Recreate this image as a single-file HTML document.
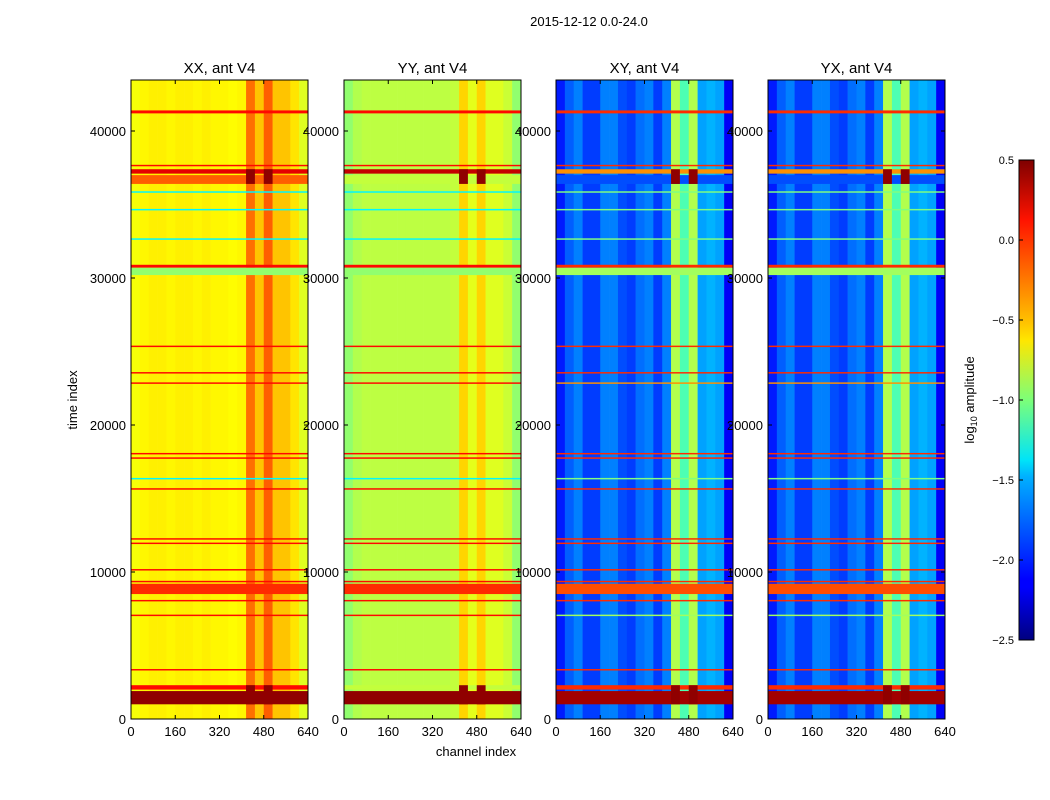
<!DOCTYPE html>
<html><head><meta charset="utf-8"><style>
body{margin:0;background:#fff;}
svg{display:block;font-family:"Liberation Sans",sans-serif;}
</style></head><body>
<svg id="fig" width="1050" height="800" xmlns="http://www.w3.org/2000/svg">
<defs>
<linearGradient id="cbgrad" x1="0" y1="1" x2="0" y2="0">
<stop offset="0" stop-color="#00007f"/><stop offset="0.11" stop-color="#0000ff"/><stop offset="0.125" stop-color="#0000ff"/>
<stop offset="0.34" stop-color="#00b0ff"/><stop offset="0.375" stop-color="#00e4f8"/><stop offset="0.5" stop-color="#7cff79"/>
<stop offset="0.625" stop-color="#ffe600"/><stop offset="0.66" stop-color="#ffc400"/><stop offset="0.875" stop-color="#ff1300"/><stop offset="1" stop-color="#7f0000"/>
</linearGradient>
</defs>
<text x="589" y="26" font-size="13" text-anchor="middle">2015-12-12 0.0-24.0</text>
<g id="panels"></g>
<text x="476" y="756" font-size="13" text-anchor="middle">channel index</text>
<text transform="translate(77,400) rotate(-90)" font-size="13" text-anchor="middle">time index</text>
<g>
<rect x="1019" y="160" width="15" height="480" fill="url(#cbgrad)" stroke="#000" stroke-width="1"/>
<g id="cbticks"></g>
<text transform="translate(974,400) rotate(-90)" font-size="13" text-anchor="middle">log<tspan font-size="9" dy="3">10</tspan><tspan dy="-3"> amplitude</tspan></text>
</g>
</svg>
<script>
// ---- data ----
const panelTitles = ["XX, ant V4","YY, ant V4","XY, ant V4","YX, ant V4"];
const xTicks = [0,160,320,480,640];
const yTicks = [0,10000,20000,30000,40000];
const cbTicks = [0.5,0.0,-0.5,-1.0,-1.5,-2.0,-2.5];
// column profile (log10 amplitude) per 32-channel bin
const colXX = [-0.65,-0.6,-0.58,-0.58,-0.6,-0.58,-0.58,-0.6,-0.58,-0.6,-0.6,-0.62,-0.6,-0.2,-0.45,-0.15,-0.45,-0.45,-0.55,-0.72];
const colYY = [-0.95,-0.85,-0.82,-0.82,-0.82,-0.82,-0.82,-0.82,-0.82,-0.82,-0.82,-0.82,-0.8,-0.5,-0.7,-0.5,-0.72,-0.72,-0.78,-0.95];
const colXY = [-2.05,-1.85,-1.75,-1.95,-1.95,-1.75,-1.75,-1.9,-1.95,-1.8,-1.75,-1.95,-1.75,-0.85,-1.15,-0.85,-1.65,-1.6,-1.65,-2.15];
const colYX = [-2.05,-1.85,-1.75,-1.95,-1.95,-1.75,-1.75,-1.9,-1.95,-1.8,-1.75,-1.95,-1.75,-0.85,-1.15,-0.85,-1.65,-1.6,-1.65,-2.15];
// horizontal stripes: start time, end time
const stripeStart = [41200,37600,37100,36400,35800,34600,32600,30700,30200,25300,23500,22800,18000,17700,16300,15600,12200,11900,10100,9300,8500,8000,7000,3300,2000,1000];
const stripeEnd   = [41400,37700,37400,37000,35900,34700,32700,30900,30700,25400,23600,22900,18100,17800,16400,15700,12300,12000,10200,9400,9200,8100,7100,3400,2300,1900];
const stripeXX    = [0.1,0.1,0.2,-0.15,-1.4,-1.4,-1.4,0.1,-0.95,0.1,0.1,0.1,0.1,0.1,-1.4,0.1,0.1,0.1,0.1,0.1,0.0,0.1,0.1,0.1,0.1,0.45];
const stripeYY    = [0.1,0.1,0.3,-0.8,-1.4,-1.4,-1.4,0.1,-0.95,0.1,0.1,0.1,0.1,0.1,-1.4,0.1,0.1,0.1,0.1,0.1,0.0,0.1,0.1,0.1,-0.8,0.45];
const stripeXY    = [0.0,0.0,-0.3,-1.9,-1.0,-1.0,-1.0,0.0,-0.9,0.0,0.0,-0.3,0.0,0.0,-1.0,0.0,0.0,0.0,0.0,0.0,-0.1,0.0,-0.9,0.0,0.0,0.4];
const stripeYX    = [0.0,0.0,-0.3,-1.9,-1.0,-1.0,-1.0,0.0,-0.9,0.0,0.0,-0.3,0.0,0.0,-1.0,0.0,0.0,0.0,0.0,0.0,-0.1,0.0,-0.9,0.0,0.0,0.4];
const hotLo = [36400,1000];   // time ranges where hot columns saturate
const hotHi = [37400,2300];

const cols=[colXX,colYY,colXY,colYX], strs=[stripeXX,stripeYY,stripeXY,stripeYX];
const panelX=[131,344,556,768], PW=177, PT=80, PB=719, TMAX=43470, CMAX=640, VMIN=-2.5, VMAX=0.5;
const NS="http://www.w3.org/2000/svg";
function jet(v){let t=(v-VMIN)/(VMAX-VMIN);t=Math.max(0,Math.min(1,t));
 const f=(x)=>Math.max(0,Math.min(1,1.5-Math.abs(4*t-x)));
 return `rgb(${Math.round(255*f(3))},${Math.round(255*f(2))},${Math.round(255*f(1))})`;}
function el(tag,attrs,parent){const e=document.createElementNS(NS,tag);for(const k in attrs)e.setAttribute(k,attrs[k]);parent.appendChild(e);return e;}
const root=document.getElementById('panels');
panelX.forEach((x0,p)=>{
 const xs=c=>x0+c/CMAX*PW, ys=t=>PB-t/TMAX*(PB-PT);
 const g=el('g',{},root);
 
 
 const bw=CMAX/cols[p].length;
 cols[p].forEach((v,i)=>{
  const r=el('rect',{x:xs(i*bw),y:PT,width:xs((i+1)*bw)-xs(i*bw)+0.3,height:PB-PT,fill:jet(v)},g);
  
  
 });
 stripeStart.forEach((s,i)=>{
  const r=el('rect',{x:x0,y:ys(stripeEnd[i]),width:PW,height:Math.max(1,ys(s)-ys(stripeEnd[i])),fill:jet(strs[p][i])},g);
  
  
 });
 hotLo.forEach((s,i)=>{
  [13,15].forEach(b=>{
   const r=el('rect',{x:xs(b*bw),y:ys(hotHi[i]),width:xs((b+1)*bw)-xs(b*bw),height:ys(s)-ys(hotHi[i]),fill:jet(0.45)},g);
   
   
  });
 });
 const fr=el('rect',{x:x0,y:PT,width:PW,height:PB-PT,fill:'none',stroke:'#000','stroke-width':1},g);
 
 
 const tt=el('text',{x:x0+PW/2,y:73,'font-size':15,'text-anchor':'middle'},g);tt.textContent=panelTitles[p];
 
 
 xTicks.forEach(c=>{
  el('line',{x1:xs(c),x2:xs(c),y1:PB,y2:PB-4,stroke:'#000'},g);
  el('line',{x1:xs(c),x2:xs(c),y1:PT,y2:PT+4,stroke:'#000'},g);
  const t=el('text',{x:xs(c),y:PB+17,'font-size':13,'text-anchor':'middle'},g);t.textContent=c;
  
  
 });
 yTicks.forEach(v=>{
  el('line',{x1:x0,x2:x0+4,y1:ys(v),y2:ys(v),stroke:'#000'},g);
  el('line',{x1:x0+PW,x2:x0+PW-4,y1:ys(v),y2:ys(v),stroke:'#000'},g);
  const t=el('text',{x:x0-5,y:ys(v)+5,'font-size':13,'text-anchor':'end'},g);t.textContent=v;
  
  
 });
});
const cb=document.getElementById('cbticks');
cbTicks.forEach(v=>{
 const y=640-(v-VMIN)/(VMAX-VMIN)*480;
 el('line',{x1:1019,x2:1023,y1:y,y2:y,stroke:'#000'},cb);
 const t=el('text',{x:1014,y:y+4,'font-size':11,'text-anchor':'end'},cb);t.textContent=v.toFixed(1).replace('-','\u2212');
 
 
});
</script>
</body></html>
